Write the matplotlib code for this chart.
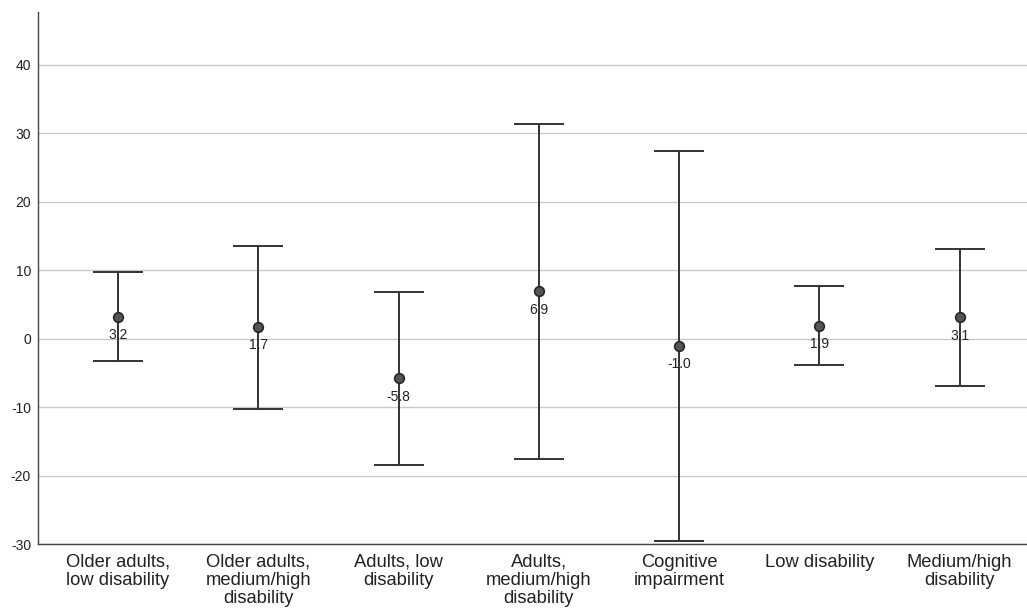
import matplotlib
matplotlib.use("Agg")
import matplotlib.pyplot as plt
import numpy as np

plt.rcParams['font.family'] = ['Liberation Sans', 'DejaVu Sans']

categories = [
    "Older adults,\nlow disability",
    "Older adults,\nmedium/high\ndisability",
    "Adults, low\ndisability",
    "Adults,\nmedium/high\ndisability",
    "Cognitive\nimpairment",
    "Low disability",
    "Medium/high\ndisability",
]
means = [3.2, 1.7, -5.8, 6.9, -1.0, 1.9, 3.1]
upper = [9.7, 13.6, 6.8, 31.4, 27.5, 7.7, 13.1]
lower = [-3.3, -10.2, -18.4, -17.6, -29.5, -3.9, -6.9]
yticks = [-30, -20, -10, 0, 10, 20, 30, 40]

fig = plt.figure(figsize=(10.27, 6.14), dpi=100)
ax = fig.add_axes([0.037, 0.114, 0.963, 0.866])

x = np.arange(len(categories))
m = np.array(means)
err = np.vstack([m - np.array(lower), np.array(upper) - m])

ax.errorbar(x, m, yerr=err, fmt='none', ecolor='#333333', elinewidth=1.4,
            capsize=18, capthick=1.4, zorder=3)
ax.scatter(x, m, s=48, color='#555555', edgecolor='#262626', linewidth=1.2,
           zorder=4)
for xi, v in zip(x, means):
    ax.annotate(f"{v:.1f}", (xi, v), xytext=(0, -8), textcoords='offset points',
                ha='center', va='top', fontsize=10, color='#222222', zorder=5)

ax.set_xlim(-0.57, 6.48)
ax.set_ylim(-30, 47.7)
ax.set_yticks(yticks)
ax.set_yticklabels([str(t) for t in yticks], fontsize=10, color='#222222')
ax.set_xticks(x)
ax.set_xticklabels(categories, fontsize=13.2, color='#222222', linespacing=1.08)
ax.tick_params(axis='both', length=0)
ax.tick_params(axis='x', pad=7)
ax.tick_params(axis='y', pad=5)

ax.grid(axis='y', color='#c8c8c8', linewidth=1.0)
ax.set_axisbelow(True)
for s in ['top', 'right']:
    ax.spines[s].set_visible(False)
for s in ['left', 'bottom']:
    ax.spines[s].set_color('#444444')
    ax.spines[s].set_linewidth(1.0)

fig.savefig('out.png', dpi=100)
